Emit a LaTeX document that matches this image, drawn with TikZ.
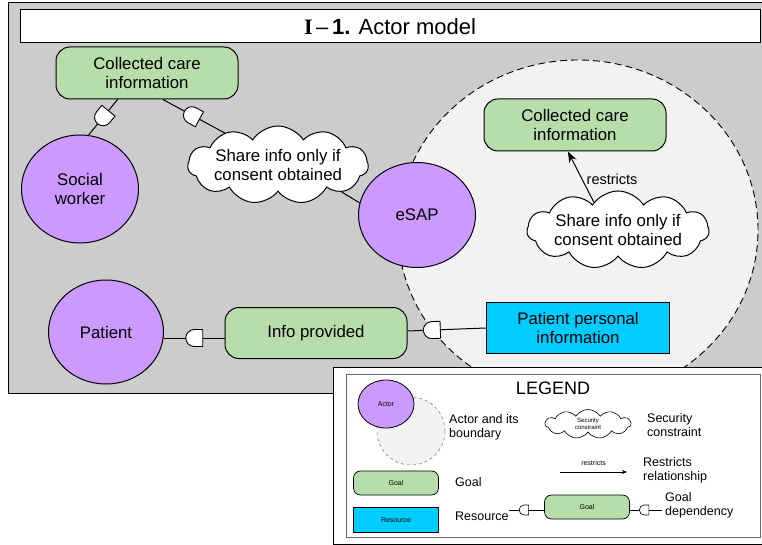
\documentclass[tikz,border=0pt]{standalone}
\usepackage{fontspec}
\setmainfont{Liberation Sans}
\newfontfamily\serifbf{Liberation Serif}
\usetikzlibrary{shapes.geometric,shapes.symbols,arrows.meta}
\definecolor{bggray}{RGB}{204,204,204}
\definecolor{bndgray}{RGB}{242,242,242}
\definecolor{goalgreen}{RGB}{183,221,170}
\definecolor{actorpurple}{RGB}{204,153,255}
\definecolor{rescyan}{RGB}{0,204,255}
\newcommand\mainfs{\fontsize{16.8}{19.5}\selectfont}
\newcommand\legfs{\fontsize{12.5}{14}\selectfont}
\newcommand\tinyfs{\fontsize{7}{8}\selectfont}
\newcommand\tinierfs{\fontsize{6}{6.5}\selectfont}
\tikzset{
 goalbox/.style={draw=black, line width=1pt, fill=goalgreen, rounded corners=14pt, minimum width=182pt, minimum height=52pt, align=center, font=\mainfs, inner sep=0pt},
 resbox/.style={draw=black, line width=1pt, fill=rescyan, minimum width=183pt, minimum height=51pt, align=center, font=\mainfs, inner sep=0pt},
 actor/.style={ellipse, draw=black, line width=1pt, fill=actorpurple, align=center, font=\mainfs, inner sep=0pt},
 softcloud/.style={cloud, cloud puffs=11, cloud puff arc=115, cloud ignores aspect, draw=black, line width=1pt, fill=white, align=center, font=\mainfs, inner sep=0pt},
 link/.style={draw=black, line width=1pt},
 legtext/.style={anchor=west, align=left, font=\legfs, inner sep=0pt},
 depd/.pic={\draw[line width=0.9pt, fill=white] (8.5,-8.5) -- (0,-8.5) arc[start angle=-90, end angle=-270, radius=8.5] -- (8.5,8.5) -- cycle;},
 depsmall/.pic={\draw[line width=0.6pt, fill=white] (4.5,-5) -- (0,-5) arc[start angle=-90, end angle=-270, radius=5] -- (4.5,5) -- cycle;}
}
\begin{document}
\begin{tikzpicture}[x=1pt,y=1pt]
\useasboundingbox (0,0) rectangle (762,-545);
% background frame
\fill[bggray] (8,-3) rectangle (775,-393);
\draw[line width=1pt] (775,-3) -- (8,-3) -- (8,-393) -- (775,-393);
% title
\node[draw=black, line width=1pt, fill=white, minimum width=740pt, minimum height=33pt, inner sep=0pt] (title) at (390,-26.5) {\fontsize{22}{25}\selectfont{\serifbf\bfseries I}\,–\,\textbf{1.} Actor model};
% actor boundary
\draw[line width=0.9pt, fill=bndgray, dash pattern=on 7pt off 4pt] (578,-230) ellipse [x radius=180, y radius=170];
% nodes
\node[goalbox] (goal1) at (147,-73) {Collected care\\information};
\node[actor, minimum width=117pt, minimum height=108pt] (social) at (80,-189) {Social\\worker};
\node[softcloud, minimum width=178pt, minimum height=78pt] (cloud1) at (278,-165) {Share info only if\\consent obtained};
\node[actor, minimum width=117pt, minimum height=105pt] (esap) at (417,-215) {eSAP};
\node[goalbox] (goal2) at (575,-125) {Collected care\\information};
\node[softcloud, minimum width=182pt, minimum height=78pt] (cloud2) at (618,-230) {Share info only if\\consent obtained};
\node[actor, minimum width=115pt, minimum height=104pt] (patient) at (106,-332) {Patient};
\node[goalbox, minimum height=51pt] (info) at (316,-333) {Info provided};
\node[resbox] (res) at (578,-328) {Patient personal\\information};
% links
\draw[link] (goal1.222) -- pic[pos=0.5, sloped]{depd} (social.81);
\draw[link] (cloud1.149) -- pic[pos=0.53, sloped]{depd} (goal1.301);
\draw[link] (cloud1.-23) -- (esap.168);
\draw[link, -{Stealth[length=11pt, width=8pt]}] (cloud2.131) -- node[right=4pt, pos=0.45, font=\fontsize{14.5}{16}\selectfont, inner sep=0pt] (restr) {restricts} (goal2.255);
\draw[link] ([yshift=-6pt]patient.east) -- pic[pos=0.5, sloped]{depd} ([yshift=-5pt]info.west);
\draw[link] ([yshift=2pt]info.east) -- pic[pos=0.31, sloped]{depd} (res.west);
% legend
\node[draw=black, line width=0.8pt, fill=white, minimum width=437pt, minimum height=177pt, inner sep=0pt] (legout) at (551.5,-455.5) {};
\node[draw=black!60, line width=0.7pt, minimum width=414pt, minimum height=163pt, inner sep=0pt] (legin) at (553,-455.5) {};
\node[font=\fontsize{18}{20}\selectfont] (legtitle) at (553,-388) {LEGEND};
\node[circle, draw=black!50, dashed, line width=0.6pt, fill=bndgray, minimum size=68pt, inner sep=0pt] (lbound) at (411,-431) {};
\node[ellipse, draw=black, line width=0.8pt, fill=actorpurple, minimum width=56pt, minimum height=48pt, inner sep=0pt, font=\tinyfs] (lactor) at (386,-404) {Actor};
\node[legtext] (tactor) at (449,-427) {Actor and its\\boundary};
\node[cloud, cloud puffs=11, cloud puff arc=115, cloud ignores aspect, draw=black, line width=0.6pt, fill=white, minimum width=86pt, minimum height=29pt, inner sep=0pt, align=center, font=\tinierfs] (lcloud) at (588,-424) {Security\\constraint};
\node[legtext] (tcloud) at (647,-425) {Security\\constraint};
\coordinate (ra) at (560,-472);
\coordinate (rb) at (627,-472);
\draw[line width=0.6pt, -{Stealth[length=5pt, width=4pt]}] (ra) -- node[above=6pt, font=\tinyfs, inner sep=0pt] (lrestr) {restricts} (rb);
\node[legtext] (trestr) at (643,-470) {Restricts\\relationship};
\node[draw=black, line width=0.7pt, fill=goalgreen, rounded corners=7pt, minimum width=85pt, minimum height=24pt, inner sep=0pt, font=\tinyfs] (lgoal) at (396,-483) {Goal};
\node[legtext] (tgoal) at (455,-482) {Goal};
\node[draw=black, line width=0.7pt, fill=rescyan, minimum width=85pt, minimum height=25pt, inner sep=0pt, font=\tinyfs] (lres) at (396,-520) {Resource};
\node[legtext] (tres) at (455,-516) {Resource};
\node[draw=black, line width=0.7pt, fill=goalgreen, rounded corners=7pt, minimum width=85pt, minimum height=24pt, inner sep=0pt, font=\tinyfs] (lgoal2) at (587,-507) {Goal};
\coordinate (la) at (509,-510);
\coordinate (lb) at (662,-510);
\draw[line width=0.7pt] ([yshift=-3pt]lgoal2.west) -- pic[pos=0.57, sloped]{depsmall} (la);
\draw[line width=0.7pt] (lb) -- pic[pos=0.55, sloped]{depsmall} ([yshift=-3pt]lgoal2.east);
\node[legtext] (tdep) at (665,-505) {Goal\\dependency};
\end{tikzpicture}
\end{document}
